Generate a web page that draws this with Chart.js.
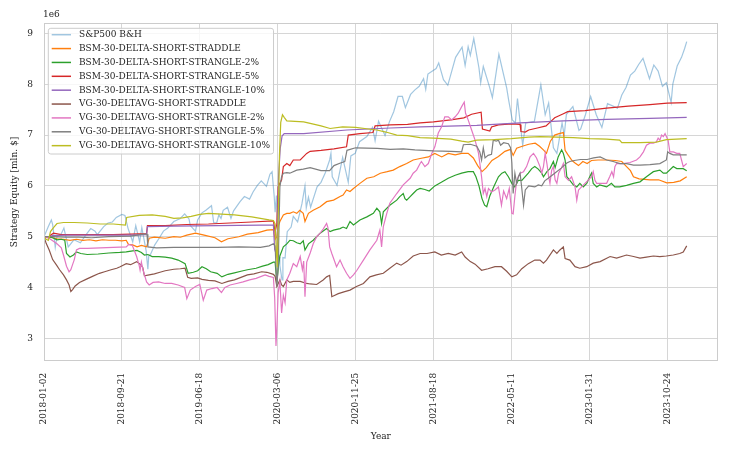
<!DOCTYPE html>
<html><head><meta charset="utf-8">
<script src="https://cdn.jsdelivr.net/npm/chart.js@4.4.1/dist/chart.umd.min.js"></script>
<style>html,body{margin:0;padding:0;background:#fff}</style>
</head><body>
<canvas id="c" width="730" height="453"></canvas>
<script>
// x = trading-day index from 2018-01-02; tick labels every 180 trading days
const tickDates = ['2018-01-02','2018-09-21','2019-06-18','2020-03-06','2020-11-25','2021-08-18','2022-05-11','2023-01-31','2023-10-24'];
const tickStep = 180;
const yTicks = [3,4,5,6,7,8,9];
const seriesNames = ['S&P500 B&H','BSM-30-DELTA-SHORT-STRADDLE','BSM-30-DELTA-SHORT-STRANGLE-2%','BSM-30-DELTA-SHORT-STRANGLE-5%','BSM-30-DELTA-SHORT-STRANGLE-10%','VG-30-DELTAVG-SHORT-STRADDLE','VG-30-DELTAVG-SHORT-STRANGLE-2%','VG-30-DELTAVG-SHORT-STRANGLE-5%','VG-30-DELTAVG-SHORT-STRANGLE-10%'];

// values in millions of $
const sp500 = [[0,5.00],[10,5.20],[17,5.33],[20,5.24],[26,4.79],[30,5.00],[39,5.04],[46,5.17],[56,4.80],[59,4.83],[69,4.94],[84,4.88],[99,5.06],[108,5.16],[118,5.11],[123,5.04],[138,5.20],[148,5.27],[158,5.29],[167,5.38],[180,5.44],[187,5.42],[194,5.17],[205,4.90],[212,5.22],[221,4.90],[226,5.18],[236,4.72],[240,4.36],[242,4.62],[246,4.65],[256,4.84],[266,4.97],[276,5.11],[286,5.17],[300,5.30],[315,5.36],[325,5.45],[335,5.35],[338,5.22],[350,5.11],[355,5.33],[365,5.47],[374,5.52],[387,5.61],[392,5.28],[399,5.27],[404,5.43],[409,5.36],[414,5.52],[424,5.58],[432,5.36],[438,5.51],[453,5.69],[463,5.79],[475,5.74],[483,5.88],[493,6.01],[502,6.10],[514,5.99],[522,6.23],[527,6.28],[532,5.78],[534,5.48],[537,5.81],[540,5.10],[543,4.60],[545,4.43],[550,4.15],[552,4.59],[557,4.58],[562,5.10],[571,5.19],[576,5.40],[586,5.29],[591,5.47],[596,5.65],[603,6.00],[606,5.57],[611,5.78],[616,5.58],[631,5.98],[640,6.07],[650,6.26],[660,6.51],[663,6.64],[666,6.18],[677,6.01],[690,6.56],[703,6.07],[709,6.59],[719,6.64],[729,6.87],[746,6.97],[759,7.15],[765,6.89],[773,7.27],[788,6.99],[798,7.26],[808,7.46],[818,7.76],[828,7.76],[835,7.54],[847,7.80],[857,7.89],[867,7.96],[877,8.11],[882,7.90],[887,8.20],[906,8.31],[912,8.42],[923,8.09],[933,7.98],[951,8.53],[966,8.73],[973,8.37],[980,8.74],[985,8.57],[993,8.90],[1005,8.32],[1009,8.03],[1015,8.35],[1029,7.96],[1036,7.74],[1051,8.59],[1069,7.93],[1074,7.67],[1082,7.30],[1089,7.24],[1094,7.72],[1106,6.80],[1113,7.24],[1133,7.27],[1148,7.99],[1158,7.40],[1166,7.63],[1177,6.75],[1185,6.64],[1197,7.24],[1202,7.00],[1207,7.41],[1222,7.56],[1236,7.09],[1240,7.12],[1251,7.40],[1263,7.76],[1276,7.40],[1289,7.15],[1302,7.62],[1325,7.53],[1335,7.79],[1345,7.94],[1355,8.18],[1365,8.26],[1374,8.39],[1384,8.51],[1399,8.11],[1409,8.38],[1419,8.26],[1429,7.96],[1438,8.03],[1449,7.64],[1453,8.01],[1463,8.36],[1473,8.53],[1480,8.70],[1485,8.84]];

const bsmStraddle = [[0,5.00],[10,4.99],[20,4.98],[30,4.96],[45,4.95],[60,4.93],[75,4.95],[90,4.93],[105,4.94],[120,4.92],[135,4.94],[150,4.93],[165,4.93],[180,4.92],[190,4.93],[195,4.85],[205,4.84],[215,4.80],[225,4.83],[237,4.80],[243,4.97],[255,4.99],[280,4.97],[300,5.00],[315,4.99],[330,5.03],[350,5.07],[370,5.03],[395,4.98],[410,4.90],[425,4.96],[450,5.00],[470,5.05],[495,5.08],[515,5.13],[530,5.14],[534,4.95],[538,5.00],[541,5.20],[545,5.30],[553,5.43],[561,5.46],[568,5.46],[576,5.49],[584,5.46],[591,5.52],[599,5.46],[603,5.30],[611,5.46],[622,5.52],[638,5.59],[653,5.69],[669,5.72],[684,5.79],[691,5.82],[699,5.92],[707,5.89],[715,5.95],[730,6.05],[746,6.15],[762,6.18],[777,6.25],[793,6.28],[807,6.31],[822,6.38],[838,6.44],[853,6.51],[869,6.54],[888,6.57],[903,6.64],[919,6.57],[934,6.64],[950,6.61],[965,6.64],[980,6.64],[992,6.55],[1002,6.40],[1012,6.28],[1022,6.36],[1035,6.50],[1050,6.58],[1065,6.68],[1078,6.72],[1084,6.60],[1092,6.74],[1105,6.78],[1120,6.82],[1135,6.84],[1145,6.78],[1155,6.70],[1161,6.64],[1170,6.88],[1180,7.00],[1190,7.03],[1200,7.05],[1204,6.70],[1210,6.62],[1220,6.50],[1227,6.45],[1235,6.40],[1245,6.48],[1255,6.44],[1265,6.50],[1280,6.51],[1300,6.51],[1320,6.50],[1335,6.48],[1346,6.38],[1355,6.30],[1362,6.18],[1375,6.14],[1400,6.12],[1420,6.12],[1439,6.06],[1455,6.07],[1470,6.10],[1485,6.18]];

const bsmStrangle2 = [[0,5.00],[10,5.00],[20,4.98],[30,4.94],[40,4.95],[48,4.93],[52,4.67],[60,4.60],[68,4.64],[75,4.70],[85,4.67],[100,4.65],[125,4.66],[150,4.68],[175,4.69],[190,4.70],[205,4.72],[215,4.73],[225,4.69],[232,4.64],[240,4.65],[250,4.61],[265,4.61],[280,4.60],[295,4.58],[310,4.54],[326,4.47],[333,4.28],[345,4.30],[355,4.33],[365,4.41],[375,4.37],[385,4.31],[400,4.28],[411,4.21],[425,4.26],[440,4.29],[455,4.32],[470,4.35],[490,4.38],[505,4.42],[518,4.45],[530,4.50],[534,4.50],[538,4.10],[542,4.45],[545,4.62],[553,4.80],[561,4.86],[568,4.93],[576,4.92],[584,4.88],[592,4.86],[599,4.92],[603,4.74],[611,4.86],[622,4.93],[630,5.00],[638,5.07],[653,5.16],[661,5.10],[669,5.13],[684,5.16],[691,5.19],[699,5.16],[707,5.30],[715,5.23],[730,5.33],[746,5.39],[761,5.46],[769,5.56],[776,5.49],[780,5.26],[784,5.49],[799,5.62],[815,5.72],[822,5.79],[830,5.85],[834,5.75],[838,5.72],[846,5.79],[853,5.85],[861,5.92],[869,5.95],[880,5.93],[890,5.90],[903,6.00],[918,6.07],[934,6.15],[950,6.21],[965,6.25],[980,6.28],[992,6.28],[998,6.18],[1005,6.00],[1012,5.75],[1018,5.62],[1023,5.59],[1030,5.80],[1040,6.00],[1050,6.18],[1058,6.25],[1065,6.28],[1073,6.18],[1081,6.05],[1088,5.98],[1096,6.11],[1104,6.11],[1119,6.25],[1127,6.34],[1134,6.38],[1142,6.33],[1150,6.25],[1154,6.18],[1162,6.28],[1169,6.34],[1177,6.48],[1181,6.36],[1188,6.57],[1196,6.71],[1200,6.64],[1204,6.51],[1208,6.18],[1215,6.11],[1223,6.02],[1231,5.98],[1238,6.05],[1246,5.98],[1254,6.05],[1261,6.18],[1265,6.25],[1269,6.05],[1277,5.98],[1284,6.02],[1300,5.98],[1311,6.05],[1319,5.98],[1330,5.98],[1346,6.01],[1362,6.05],[1377,6.08],[1392,6.18],[1408,6.28],[1423,6.31],[1431,6.25],[1438,6.25],[1454,6.38],[1462,6.34],[1477,6.34],[1485,6.30]];

const bsmStrangle5 = [[0,5.00],[10,4.98],[15,5.03],[22,5.07],[40,5.04],[80,5.04],[120,5.04],[160,5.04],[200,5.05],[237,5.06],[239,5.22],[280,5.22],[330,5.24],[380,5.25],[430,5.27],[480,5.29],[530,5.31],[534,5.10],[538,5.25],[541,5.98],[545,6.05],[549,6.12],[553,6.38],[561,6.44],[568,6.40],[576,6.51],[592,6.51],[607,6.64],[615,6.68],[640,6.70],[670,6.73],[699,6.77],[703,7.00],[730,7.03],[760,7.05],[765,7.18],[800,7.20],[840,7.21],[869,7.24],[900,7.26],[940,7.30],[970,7.34],[988,7.41],[1010,7.45],[1013,7.12],[1030,7.08],[1034,7.16],[1050,7.20],[1080,7.22],[1100,7.21],[1102,7.07],[1112,7.06],[1120,7.10],[1140,7.14],[1160,7.18],[1170,7.26],[1180,7.34],[1190,7.38],[1200,7.42],[1210,7.46],[1250,7.48],[1300,7.53],[1350,7.57],[1400,7.60],[1440,7.63],[1485,7.64]];

const bsmStrangle10 = [[0,5.00],[10,5.00],[20,5.02],[50,5.03],[120,5.03],[200,5.03],[237,5.04],[239,5.20],[300,5.21],[400,5.22],[500,5.23],[530,5.23],[533,4.75],[538,4.62],[542,6.20],[546,6.75],[550,6.98],[555,7.03],[600,7.03],[700,7.10],[800,7.14],[870,7.16],[1000,7.19],[1100,7.24],[1200,7.28],[1300,7.31],[1400,7.33],[1485,7.35]];

const vgStraddle = [[0,5.00],[5,4.87],[12,4.74],[20,4.55],[29,4.44],[36,4.35],[45,4.25],[52,4.15],[58,4.05],[62,3.92],[66,3.96],[72,4.03],[82,4.10],[97,4.16],[112,4.22],[128,4.28],[140,4.31],[155,4.35],[168,4.38],[176,4.41],[190,4.47],[200,4.45],[214,4.51],[222,4.46],[228,4.40],[232,4.23],[243,4.25],[255,4.27],[268,4.30],[280,4.33],[300,4.36],[315,4.37],[326,4.38],[332,4.20],[340,4.18],[355,4.19],[365,4.16],[380,4.14],[395,4.13],[411,4.08],[425,4.12],[440,4.15],[455,4.20],[470,4.25],[485,4.27],[503,4.31],[515,4.30],[530,4.26],[534,4.22],[538,4.02],[545,4.15],[549,4.05],[553,4.02],[561,4.15],[568,4.10],[576,4.12],[592,4.12],[607,4.08],[615,4.07],[630,4.06],[645,4.15],[653,4.21],[660,4.24],[665,3.82],[680,3.88],[695,3.92],[707,3.95],[722,4.02],[738,4.08],[753,4.21],[768,4.25],[784,4.28],[799,4.38],[815,4.48],[825,4.44],[838,4.51],[853,4.62],[869,4.67],[885,4.67],[903,4.70],[918,4.64],[934,4.67],[950,4.64],[965,4.70],[973,4.60],[985,4.51],[996,4.46],[1011,4.34],[1026,4.37],[1042,4.41],[1057,4.41],[1069,4.32],[1081,4.21],[1092,4.25],[1104,4.37],[1119,4.47],[1134,4.54],[1146,4.54],[1154,4.48],[1161,4.54],[1177,4.74],[1185,4.67],[1192,4.74],[1200,4.80],[1204,4.57],[1215,4.54],[1227,4.41],[1238,4.38],[1254,4.41],[1269,4.48],[1285,4.51],[1308,4.61],[1323,4.58],[1346,4.64],[1362,4.61],[1377,4.58],[1392,4.60],[1408,4.62],[1423,4.61],[1438,4.62],[1454,4.64],[1469,4.67],[1477,4.70],[1485,4.82]];

const vgStrangle2 = [[0,5.00],[10,4.98],[20,4.92],[30,4.86],[40,4.78],[45,4.64],[52,4.42],[58,4.31],[62,4.35],[66,4.45],[70,4.55],[75,4.74],[82,4.77],[100,4.77],[130,4.78],[160,4.79],[190,4.80],[196,4.85],[204,4.83],[210,4.70],[214,4.61],[220,4.43],[222,4.34],[225,4.50],[229,4.34],[237,4.11],[243,4.05],[252,4.10],[265,4.11],[280,4.08],[295,4.08],[310,4.05],[325,4.00],[330,3.78],[338,3.95],[350,4.02],[360,4.06],[368,3.75],[376,3.95],[388,3.98],[400,4.00],[410,3.90],[418,4.00],[430,4.05],[445,4.08],[460,4.11],[475,4.15],[490,4.18],[511,4.25],[520,4.22],[530,4.20],[533,3.80],[536,2.85],[538,3.20],[541,3.90],[545,4.12],[549,3.50],[553,3.85],[557,3.70],[561,4.15],[568,4.28],[576,4.47],[584,4.41],[592,4.61],[597,4.35],[600,4.52],[603,3.82],[607,4.50],[615,4.68],[622,4.86],[630,5.00],[638,5.07],[645,5.15],[653,5.26],[656,5.18],[660,4.80],[665,4.67],[676,4.41],[684,4.54],[691,4.41],[699,4.28],[707,4.18],[715,4.25],[723,4.34],[738,4.54],[753,4.74],[769,4.93],[776,5.13],[780,4.80],[784,5.20],[792,5.46],[799,5.66],[815,5.85],[830,6.02],[846,6.15],[853,6.25],[861,6.31],[869,6.44],[872,6.48],[880,6.38],[888,6.44],[896,6.64],[903,6.77],[911,7.04],[919,7.17],[926,7.36],[934,7.36],[942,7.30],[950,7.36],[957,7.43],[965,7.56],[971,7.65],[974,7.43],[980,7.30],[988,7.10],[996,6.90],[1004,6.64],[1011,6.18],[1015,5.85],[1019,5.95],[1023,5.79],[1027,5.95],[1034,5.88],[1042,5.92],[1050,5.98],[1057,5.62],[1062,5.90],[1069,5.75],[1075,5.95],[1081,5.46],[1084,5.45],[1088,5.80],[1092,6.10],[1100,6.25],[1108,6.28],[1115,6.38],[1123,6.57],[1131,6.64],[1138,6.55],[1146,6.38],[1150,6.25],[1154,6.38],[1158,6.64],[1162,6.44],[1166,6.18],[1169,6.05],[1173,6.31],[1177,6.38],[1181,6.12],[1185,6.05],[1189,6.25],[1196,6.36],[1200,6.44],[1204,6.18],[1212,6.11],[1219,6.18],[1227,5.98],[1231,5.72],[1235,5.92],[1242,5.98],[1250,6.05],[1257,6.11],[1265,6.18],[1269,6.28],[1273,6.11],[1277,6.05],[1290,6.05],[1300,6.05],[1307,6.18],[1312,6.28],[1316,6.18],[1319,6.38],[1323,6.44],[1338,6.44],[1354,6.46],[1369,6.51],[1377,6.57],[1385,6.67],[1392,6.80],[1400,6.84],[1408,6.84],[1415,6.87],[1419,6.94],[1423,6.90],[1427,7.00],[1431,6.97],[1435,7.03],[1438,6.97],[1442,6.90],[1446,6.67],[1454,6.67],[1462,6.64],[1469,6.64],[1473,6.51],[1477,6.38],[1485,6.44]];

const vgStrangle5 = [[0,5.00],[20,5.00],[50,4.99],[80,4.99],[110,4.98],[150,5.00],[200,5.01],[230,5.05],[238,5.05],[240,4.80],[260,4.78],[300,4.79],[350,4.79],[400,4.79],[450,4.80],[500,4.79],[520,4.82],[530,4.86],[534,4.82],[538,4.02],[541,4.40],[545,5.98],[549,6.18],[553,6.25],[561,6.26],[568,6.25],[584,6.31],[599,6.33],[615,6.36],[640,6.30],[660,6.30],[670,6.40],[685,6.45],[695,6.48],[700,6.70],[720,6.75],[770,6.74],[800,6.72],[830,6.73],[857,6.71],[900,6.69],[940,6.68],[965,6.67],[969,6.81],[985,6.82],[1000,6.78],[1007,6.67],[1011,6.51],[1015,6.75],[1019,6.55],[1026,6.60],[1034,6.62],[1038,6.90],[1045,6.88],[1050,6.90],[1055,6.80],[1062,6.85],[1073,6.83],[1078,6.75],[1081,6.45],[1084,5.85],[1088,6.25],[1092,6.05],[1096,6.18],[1100,6.25],[1104,5.95],[1108,5.62],[1112,5.92],[1120,6.00],[1134,5.98],[1142,6.02],[1150,6.00],[1157,6.10],[1165,6.15],[1180,6.25],[1195,6.35],[1208,6.45],[1215,6.48],[1225,6.50],[1240,6.52],[1255,6.52],[1270,6.55],[1285,6.57],[1300,6.51],[1315,6.48],[1331,6.44],[1346,6.44],[1362,6.41],[1377,6.41],[1400,6.42],[1423,6.44],[1438,6.51],[1441,6.67],[1446,6.64],[1454,6.61],[1470,6.61],[1485,6.61]];

const vgStrangle10 = [[0,5.00],[5,4.95],[10,4.93],[15,5.10],[22,5.18],[30,5.26],[45,5.28],[70,5.28],[100,5.27],[130,5.25],[160,5.25],[188,5.23],[191,5.38],[220,5.42],[250,5.43],[280,5.40],[300,5.36],[320,5.37],[340,5.40],[360,5.44],[380,5.46],[400,5.45],[420,5.44],[440,5.43],[460,5.41],[480,5.39],[500,5.36],[520,5.33],[530,5.32],[534,5.25],[537,4.70],[539,4.40],[541,5.30],[544,6.60],[547,7.25],[551,7.40],[555,7.35],[561,7.28],[580,7.27],[600,7.26],[620,7.22],[640,7.18],[661,7.13],[690,7.16],[720,7.15],[750,7.12],[769,7.10],[790,7.06],[815,7.00],[840,6.99],[869,6.95],[900,6.94],[940,6.92],[965,6.88],[980,6.86],[1000,6.90],[1040,6.91],[1080,6.93],[1120,6.96],[1146,6.97],[1185,6.96],[1223,6.95],[1261,6.93],[1300,6.92],[1330,6.90],[1335,6.85],[1377,6.85],[1415,6.86],[1438,6.91],[1485,6.93]];

const seriesData = [sp500, bsmStraddle, bsmStrangle2, bsmStrangle5, bsmStrangle10, vgStraddle, vgStrangle2, vgStrangle5, vgStrangle10];
const seriesColors = ['rgba(31,119,180,0.42)','#ff7f0e','#2ca02c','#d62728','#9467bd','#8c564b','#e377c2','#7f7f7f','#bcbd22'];

const FONT = "'DejaVu Serif', serif";
const TXT = '#262626';
const GRID = '#d6d6d6';
const EDGE = '#cccccc';

const decor = {
  id: 'decor',
  afterDatasetsDraw(chart) {
    const {ctx, chartArea: a} = chart;
    ctx.save();
    ctx.strokeStyle = EDGE; ctx.lineWidth = 1;
    const l = Math.round(a.left) + 0.5, t = Math.round(a.top) + 0.5;
    const r = Math.round(a.right) - 0.5, b = Math.round(a.bottom) - 0.5;
    ctx.strokeRect(l, t, r - l, b - t);
    // offset text
    ctx.fillStyle = TXT; ctx.font = "9px " + FONT;
    ctx.textAlign = 'left'; ctx.textBaseline = 'middle';
    ctx.fillText('1e6', a.left - 1, a.top - 8.5);
    // legend
    const bx = a.left + 4.3, by = a.top + 5, rowH = 13.87;
    const textX = bx + 30.7;
    let maxW = 0;
    seriesNames.forEach(n => { maxW = Math.max(maxW, ctx.measureText(n).width); });
    const bw = textX + maxW + 3.5 - bx, bh = 125.7;
    ctx.beginPath();
    ctx.roundRect(bx, by, bw, bh, 2.5);
    ctx.fillStyle = 'rgba(255,255,255,0.8)'; ctx.fill();
    ctx.strokeStyle = EDGE; ctx.lineWidth = 1; ctx.stroke();
    seriesNames.forEach((n, i) => {
      const cy = by + 6.4 + rowH * i;
      ctx.beginPath();
      ctx.moveTo(bx + 3.4, cy); ctx.lineTo(bx + 22.7, cy);
      ctx.strokeStyle = seriesColors[i]; ctx.lineWidth = 1.5; ctx.stroke();
      ctx.fillStyle = TXT;
      ctx.fillText(n, textX, cy);
    });
    ctx.restore();
  }
};

const n = seriesData.length;
new Chart(document.getElementById('c'), {
  type: 'line',
  data: {
    datasets: seriesData.map((d, i) => ({
      label: seriesNames[i],
      data: d.map(([x, y]) => ({x, y})),
      borderColor: seriesColors[i],
      borderWidth: 1.2,
      pointRadius: 0,
      tension: 0,
      fill: false,
      order: n - i
    }))
  },
  options: {
    responsive: false,
    animation: false,
    events: [],
    layout: { padding: { left: 0, top: 23.3, right: 12.3, bottom: 0 } },
    plugins: { legend: { display: false }, tooltip: { enabled: false } },
    scales: {
      x: {
        type: 'linear', min: 0, max: 1556.6,
        afterBuildTicks: ax => { ax.ticks = tickDates.map((_, i) => ({ value: i * tickStep })); },
        afterFit: s => { s.height = 92.3; },
        ticks: {
          autoSkip: false, minRotation: 90, maxRotation: 90, padding: 12,
          font: { family: FONT, size: 9 }, color: TXT,
          callback: v => tickDates[Math.round(v / tickStep)]
        },
        grid: { color: GRID, lineWidth: 1, drawTicks: false },
        border: { display: false },
        title: { display: true, text: 'Year', font: { family: FONT, size: 9 }, color: TXT, padding: { top: 0, bottom: 10.6 } }
      },
      y: {
        type: 'linear', min: 2.56, max: 9.2,
        afterBuildTicks: ax => { ax.ticks = yTicks.map(v => ({ value: v })); },
        afterFit: s => { s.width = 44; },
        ticks: { padding: 11, font: { family: FONT, size: 9 }, color: TXT, callback: v => String(v) },
        grid: { color: GRID, lineWidth: 1, drawTicks: false },
        border: { display: false },
        title: { display: true, text: 'Strategy Equity [mln. $]', font: { family: FONT, size: 9 }, color: TXT, padding: { top: 9.6, bottom: 0 } }
      }
    }
  },
  plugins: [decor]
});
</script>
</body></html>
